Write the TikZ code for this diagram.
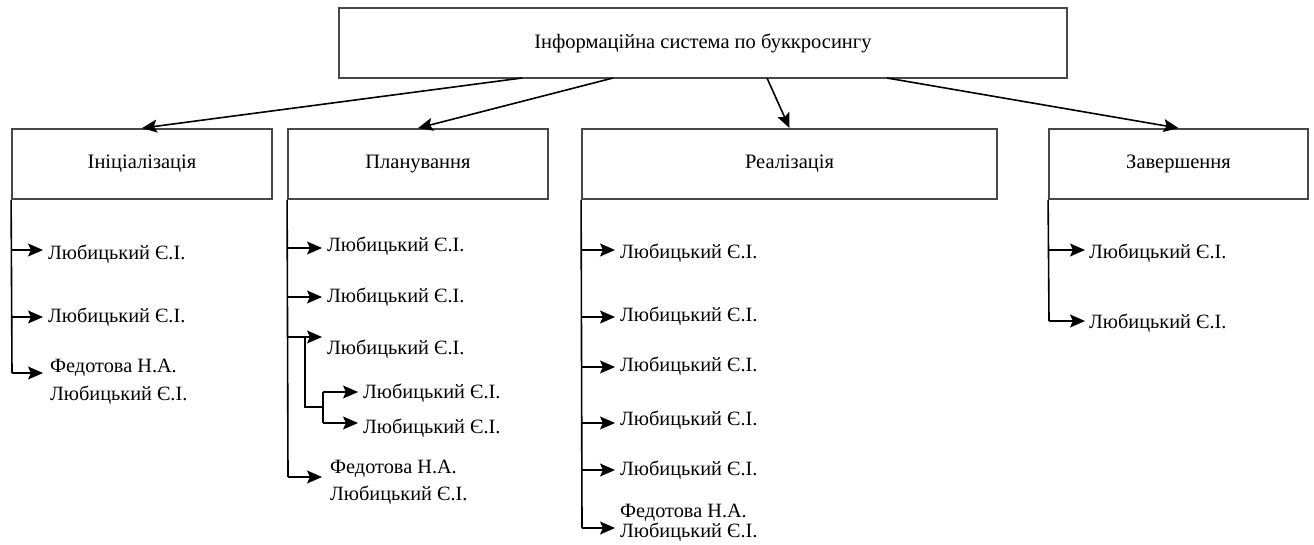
\documentclass[tikz,border=0pt]{standalone}
\usepackage{fontspec}
\setmainfont{Liberation Serif}
\usetikzlibrary{arrows.meta}
\begin{document}
\begin{tikzpicture}[x=1pt,y=-1pt,
  box/.style={draw=black!72, line width=1.8pt, minimum height=70pt, inner sep=0pt, font=\fontsize{20.5}{24}\selectfont},
  lbl/.style={anchor=base west, inner xsep=5pt, inner ysep=0pt, font=\fontsize{20.3}{24}\selectfont},
  conn/.style={line width=1.6pt, -{Stealth[length=15pt,width=13pt,inset=3pt]}},
  trunk/.style={line width=1.6pt}]
\useasboundingbox (0,0) rectangle (1314,544);
\fill[white] (0,0) rectangle (1314,544);

% boxes
\node[box, minimum width=728pt] (top) at (703,43) {Інформаційна система по буккросингу};
\node[box, minimum width=260pt] (init) at (142,164) {Ініціалізація};
\node[box, minimum width=260pt] (plan) at (418,164) {Планування};
\node[box, minimum width=415pt] (real) at (789.5,164) {Реалізація};
\node[box, minimum width=259pt] (fin) at (1178.5,164) {Завершення};

% top connectors
\coordinate (s1) at (522,78);
\coordinate (s2) at (613,78);
\coordinate (s3) at (767,78);
\coordinate (s4) at (887,78);
\draw[conn] (s1) -- (init.north);
\draw[conn] (s2) -- (plan.north);
\draw[conn] (s3) -- (real.north);
\draw[conn] (s4) -- (fin.north);

% Initialisation
\coordinate (i1) at (12,250);
\coordinate (i2) at (12,317);
\coordinate (i3) at (12,373);
\node[lbl] (i1t) at (43,259) {Любицький Є.І.};
\node[lbl] (i2t) at (43,322) {Любицький Є.І.};
\node[lbl, inner xsep=7pt] (i3a) at (43,372) {Федотова Н.А.};
\node[lbl, inner xsep=7pt] (i3b) at (43,400) {Любицький Є.І.};
\draw[trunk] (init.south west) -- (i3);
\draw[conn] (i1) -- (i1 -| i1t.west);
\draw[conn] (i2) -- (i2 -| i2t.west);
\draw[conn] (i3) -- (i3 -| i3a.west);

% Planning
\coordinate (p1) at (288,248);
\coordinate (p2) at (288,297);
\coordinate (p3) at (288,337);
\coordinate (p4) at (288,477);
\node[lbl] (p1t) at (322,251) {Любицький Є.І.};
\node[lbl] (p2t) at (322,302) {Любицький Є.І.};
\node[lbl] (p3t) at (322,354) {Любицький Є.І.};
\node[lbl, inner xsep=8pt] (p4a) at (322,473) {Федотова Н.А.};
\node[lbl, inner xsep=8pt] (p4b) at (322,500) {Любицький Є.І.};
\draw[trunk] (plan.south west) -- (p4);
\draw[conn] (p1) -- (p1 -| p1t.west);
\draw[conn] (p2) -- (p2 -| p2t.west);
\draw[conn] (p3) -- (p3 -| p3t.west);
\draw[conn] (p4) -- (p4 -| p4a.west);
% sub-branch
\coordinate (p3b) at (305,337);
\coordinate (qj) at (323,407);
\coordinate (q1) at (323,392);
\coordinate (q2) at (323,423);
\node[lbl] (q1t) at (358,398) {Любицький Є.І.};
\node[lbl] (q2t) at (358,433) {Любицький Є.І.};
\draw[trunk] (p3b) |- (qj);
\draw[trunk] (q1) -- (q2);
\draw[conn] (q1) -- (q1 -| q1t.west);
\draw[conn] (q2) -- (q2 -| q2t.west);

% Realisation
\coordinate (r1) at (582,250);
\coordinate (r2) at (582,317);
\coordinate (r3) at (582,367);
\coordinate (r4) at (582,423);
\coordinate (r5) at (582,470);
\coordinate (r6) at (582,528);
\node[lbl] (r1t) at (615,258) {Любицький Є.І.};
\node[lbl] (r2t) at (615,321) {Любицький Є.І.};
\node[lbl] (r3t) at (615,371) {Любицький Є.І.};
\node[lbl] (r4t) at (615,425) {Любицький Є.І.};
\node[lbl] (r5t) at (615,475) {Любицький Є.І.};
\node[lbl] (r6a) at (615,517) {Федотова Н.А.};
\node[lbl] (r6b) at (615,537) {Любицький Є.І.};
\draw[trunk] (real.south west) -- (r6);
\draw[conn] (r1) -- (r1 -| r1t.west);
\draw[conn] (r2) -- (r2 -| r2t.west);
\draw[conn] (r3) -- (r3 -| r3t.west);
\draw[conn] (r4) -- (r4 -| r4t.west);
\draw[conn] (r5) -- (r5 -| r5t.west);
\draw[conn] (r6) -- (r6 -| r6b.west);

% Completion
\coordinate (f1) at (1049,250);
\coordinate (f2) at (1049,321);
\node[lbl, inner xsep=4pt] (f1t) at (1085,258) {Любицький Є.І.};
\node[lbl, inner xsep=4pt] (f2t) at (1085,328) {Любицький Є.І.};
\draw[trunk] (fin.south west) -- (f2);
\draw[conn] (f1) -- (f1 -| f1t.west);
\draw[conn] (f2) -- (f2 -| f2t.west);
\end{tikzpicture}
\end{document}
